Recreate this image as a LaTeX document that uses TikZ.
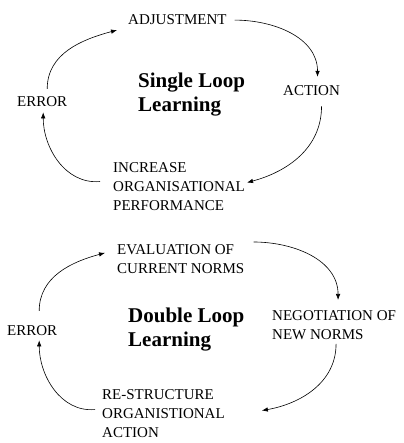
\documentclass[tikz,border=0pt]{standalone}
\usepackage{fontspec}
\setmainfont{Liberation Serif}
\usetikzlibrary{arrows.meta}
\tikzstyle{stage} = [inner sep=0pt, align=left, font=\fontsize{15}{19.3}\selectfont]
\tikzstyle{title} = [inner sep=0pt, align=left, font=\fontsize{21}{23.5}\selectfont\bfseries]
\tikzstyle{loop} = [-{Latex[length=6pt,width=4.5pt]}, line width=.6pt]

\begin{document}
\begin{tikzpicture}[x=1pt,y=1pt]%
				\useasboundingbox (0,0) rectangle (403,443);
				% single loop
				\node [stage, anchor=base west] (adj) at (128,418) {ADJUSTMENT};
				\node [stage, anchor=base west] (act) at (283,347) {ACTION};
				\node [stage, anchor=base west] (err1) at (17,336) {ERROR};
				\node [stage, anchor=north west] (inc) at (113,281) {INCREASE\\ORGANISATIONAL\\PERFORMANCE};
				\node [title, anchor=north west] (single) at (138,370) {Single Loop\\Learning};
				\draw [loop] ([xshift=8pt]adj.east) to[out=0,in=90] ([xshift=6pt,yshift=9pt]act.north);
				\draw [loop] ([xshift=10pt,yshift=-10pt]act.south) to[out=-90,in=15] ([xshift=2pt,yshift=4pt]inc.east);
				\draw [loop] ([xshift=-13pt,yshift=5pt]inc.west) to[out=185,in=-90] ([xshift=1pt,yshift=-5pt]err1.south);
				\draw [loop] ([xshift=5pt,yshift=8pt]err1.north) to[out=90,in=195] ([xshift=-11pt,yshift=-10pt]adj.west);
				% double loop
				\node [stage, anchor=north west] (eval) at (117,199) {EVALUATION OF\\CURRENT NORMS};
				\node [stage, anchor=north west] (neg) at (272,133) {NEGOTIATION OF\\NEW NORMS};
				\node [stage, anchor=base west] (err2) at (7,107) {ERROR};
				\node [stage, anchor=north west] (restr) at (102,54) {RE-STRUCTURE\\ORGANISTIONAL\\ACTION};
				\node [title, anchor=north west] (double) at (128,135) {Double Loop\\Learning};
				\draw [loop] ([xshift=9pt,yshift=2pt]eval.north east) to[out=0,in=90] ([xshift=4pt,yshift=10pt]neg.north);
				\draw [loop] ([xshift=2pt,yshift=-4pt]neg.south) to[out=-90,in=10] ([xshift=37pt,yshift=3pt]restr.east);
				\draw [loop] ([xshift=-7pt,yshift=4pt]restr.west) to[out=185,in=-90] ([xshift=7pt,yshift=-4pt]err2.south);
				\draw [loop] ([xshift=7pt,yshift=15pt]err2.north) to[out=90,in=195] ([xshift=-12pt,yshift=6pt]eval.west);
	\end{tikzpicture}
\end{document}
